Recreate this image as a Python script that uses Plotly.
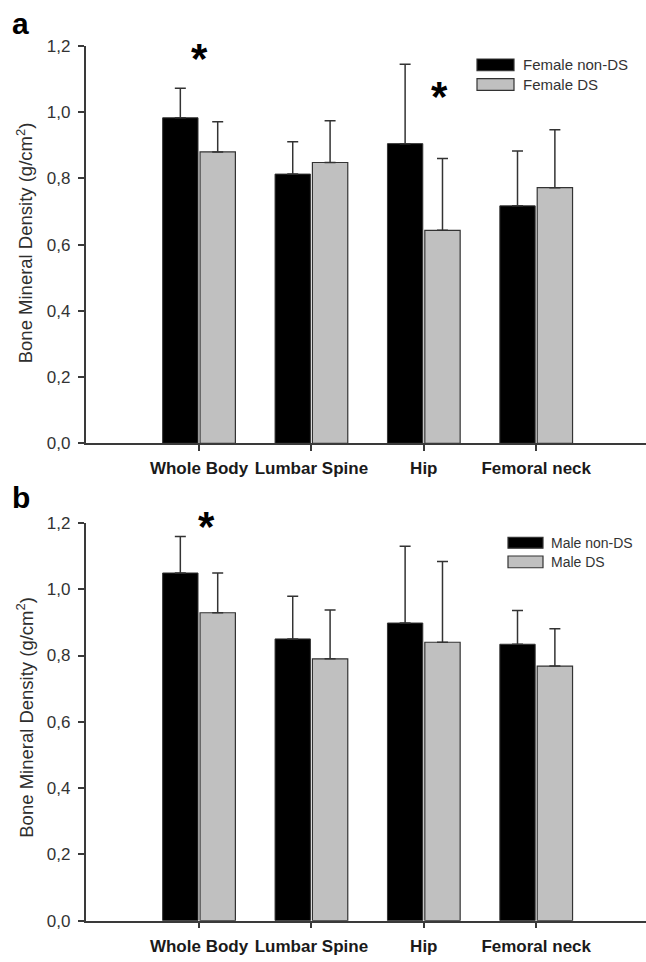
import plotly.graph_objects as go

# ---------------- data ----------------
categories = ["Whole Body", "Lumbar Spine", "Hip", "Femoral neck"]
cat_pos = [0, 1, 2, 3]

female_nonds_mean = [0.983, 0.813, 0.905, 0.717]
female_nonds_sd = [0.089, 0.098, 0.240, 0.166]
female_ds_mean = [0.880, 0.848, 0.643, 0.772]
female_ds_sd = [0.091, 0.126, 0.217, 0.175]

male_nonds_mean = [1.049, 0.850, 0.898, 0.834]
male_nonds_sd = [0.110, 0.129, 0.232, 0.102]
male_ds_mean = [0.929, 0.790, 0.840, 0.768]
male_ds_sd = [0.120, 0.147, 0.244, 0.113]

y_tickvals = [0.0, 0.2, 0.4, 0.6, 0.8, 1.0, 1.2]
y_ticktext = ["0,0", "0,2", "0,4", "0,6", "0,8", "1,0", "1,2"]

# significance markers: (x position in category units, y value)
female_stars_x = [0.0, 2.144]
female_stars_y = [1.156, 1.040]
male_stars_x = [0.07]
male_stars_y = [1.183]

# ---------------- styling ----------------
W, H = 646, 962
BLACK = "#000000"
GREY = "#c0c0c0"
EDGE = "#333333"
AXC = "#3a3a3a"
FONT = "Liberation Sans, Arial, sans-serif"


def px(x):
    return x / W


def py(y):
    return 1 - y / H


fig = go.Figure()


def add_bars(xa, ya, m1, s1, n1, m2, s2, n2):
    zeros = [0] * len(m1)
    fig.add_trace(go.Bar(
        x=cat_pos, y=m1, name=n1, xaxis=xa, yaxis=ya,
        marker=dict(color=BLACK, line=dict(color=EDGE, width=1)),
        error_y=dict(type="data", symmetric=False, array=s1, arrayminus=zeros,
                     color=EDGE, thickness=1.5, width=5.5),
        showlegend=False,
    ))
    fig.add_trace(go.Bar(
        x=cat_pos, y=m2, name=n2, xaxis=xa, yaxis=ya,
        marker=dict(color=GREY, line=dict(color=EDGE, width=1.2)),
        error_y=dict(type="data", symmetric=False, array=s2, arrayminus=zeros,
                     color=EDGE, thickness=1.5, width=5.5),
        showlegend=False,
    ))


add_bars("x", "y", female_nonds_mean, female_nonds_sd, "Female non-DS",
         female_ds_mean, female_ds_sd, "Female DS")
add_bars("x2", "y2", male_nonds_mean, male_nonds_sd, "Male non-DS",
         male_ds_mean, male_ds_sd, "Male DS")

xdom = [px(85.5), 1.0]
xaxis_common = dict(
    range=[-1.01, 3.977], domain=xdom,
    tickmode="array", tickvals=cat_pos, ticktext=categories,
    showline=True, linecolor=AXC, linewidth=1.5,
    ticks="outside", ticklen=6, tickwidth=1.5, tickcolor=AXC,
    showgrid=False, zeroline=False,
    tickfont=dict(family=FONT, size=17, color="#1a1a1a", weight="bold"),
    ticklabelstandoff=3,
)
yaxis_common = dict(
    range=[0, 1.2],
    tickmode="array", tickvals=y_tickvals, ticktext=y_ticktext,
    showline=True, linecolor=AXC, linewidth=1.5,
    ticks="outside", ticklen=6, tickwidth=1.5, tickcolor=AXC,
    showgrid=False, zeroline=False,
    tickfont=dict(family=FONT, size=17, color="#333333"),
    ticklabelstandoff=4,
)

fig.update_layout(
    width=W, height=H,
    margin=dict(l=0, r=0, t=0, b=0),
    paper_bgcolor="white", plot_bgcolor="white",
    barmode="group", bargap=0.335, bargroupgap=0.054,
    xaxis=dict(**xaxis_common, anchor="y"),
    yaxis=dict(**yaxis_common, domain=[py(443), py(37.7)], anchor="x"),
    xaxis2=dict(**xaxis_common, anchor="y2"),
    yaxis2=dict(**yaxis_common, domain=[py(930), py(524.3)], anchor="x2"),
    showlegend=False,
)

annotations = []
shapes = []

# y-axis titles
for yc in (239, 723):
    annotations.append(dict(
        xref="paper", yref="paper", x=px(25), y=py(yc),
        text="Bone Mineral Density (g/cm<sup>2</sup>)", textangle=-90,
        showarrow=False, font=dict(family=FONT, size=18.5, color="#2e2e2e"),
        xanchor="center", yanchor="middle",
    ))

# panel letters
annotations.append(dict(xref="paper", yref="paper", x=px(20), y=py(22), text="a",
                        showarrow=False, yshift=7,
                        font=dict(family=FONT, size=30, color="black", weight="bold"),
                        xanchor="center", yanchor="middle"))
annotations.append(dict(xref="paper", yref="paper", x=px(21), y=py(495), text="b",
                        showarrow=False, yshift=-3,
                        font=dict(family=FONT, size=30, color="black", weight="bold"),
                        xanchor="center", yanchor="middle"))

# significance stars
for xs, ys, xr, yr in ((female_stars_x, female_stars_y, "x", "y"),
                       (male_stars_x, male_stars_y, "x2", "y2")):
    for xv, yv in zip(xs, ys):
        annotations.append(dict(xref=xr, yref=yr, x=xv, y=yv, text="*",
                                showarrow=False, yshift=2,
                                font=dict(family=FONT, size=42, color="black", weight="bold"),
                                xanchor="center", yanchor="middle"))


# manual legends
def legend(x0, x1, items, text_x, fsize):
    for (y0, y1, color, label) in items:
        shapes.append(dict(type="rect", xref="paper", yref="paper",
                           x0=px(x0), x1=px(x1), y0=py(y1), y1=py(y0),
                           fillcolor=color, line=dict(color=EDGE, width=1.2)))
        annotations.append(dict(xref="paper", yref="paper", x=px(text_x), y=py((y0 + y1) / 2),
                                text=label, showarrow=False,
                                font=dict(family=FONT, size=fsize, color="#333333"),
                                xanchor="left", yanchor="middle"))


legend(477, 514, [(51, 63, BLACK, "Female non-DS"), (71, 83, GREY, "Female DS")], 521, 15)
legend(508, 543, [(539, 550, BLACK, "Male non-DS"), (558, 570, GREY, "Male DS")], 549, 14)

fig.update_layout(annotations=annotations, shapes=shapes)

fig.write_html("out.html", config={"displayModeBar": False},
               post_script="document.body.style.margin='0';")
